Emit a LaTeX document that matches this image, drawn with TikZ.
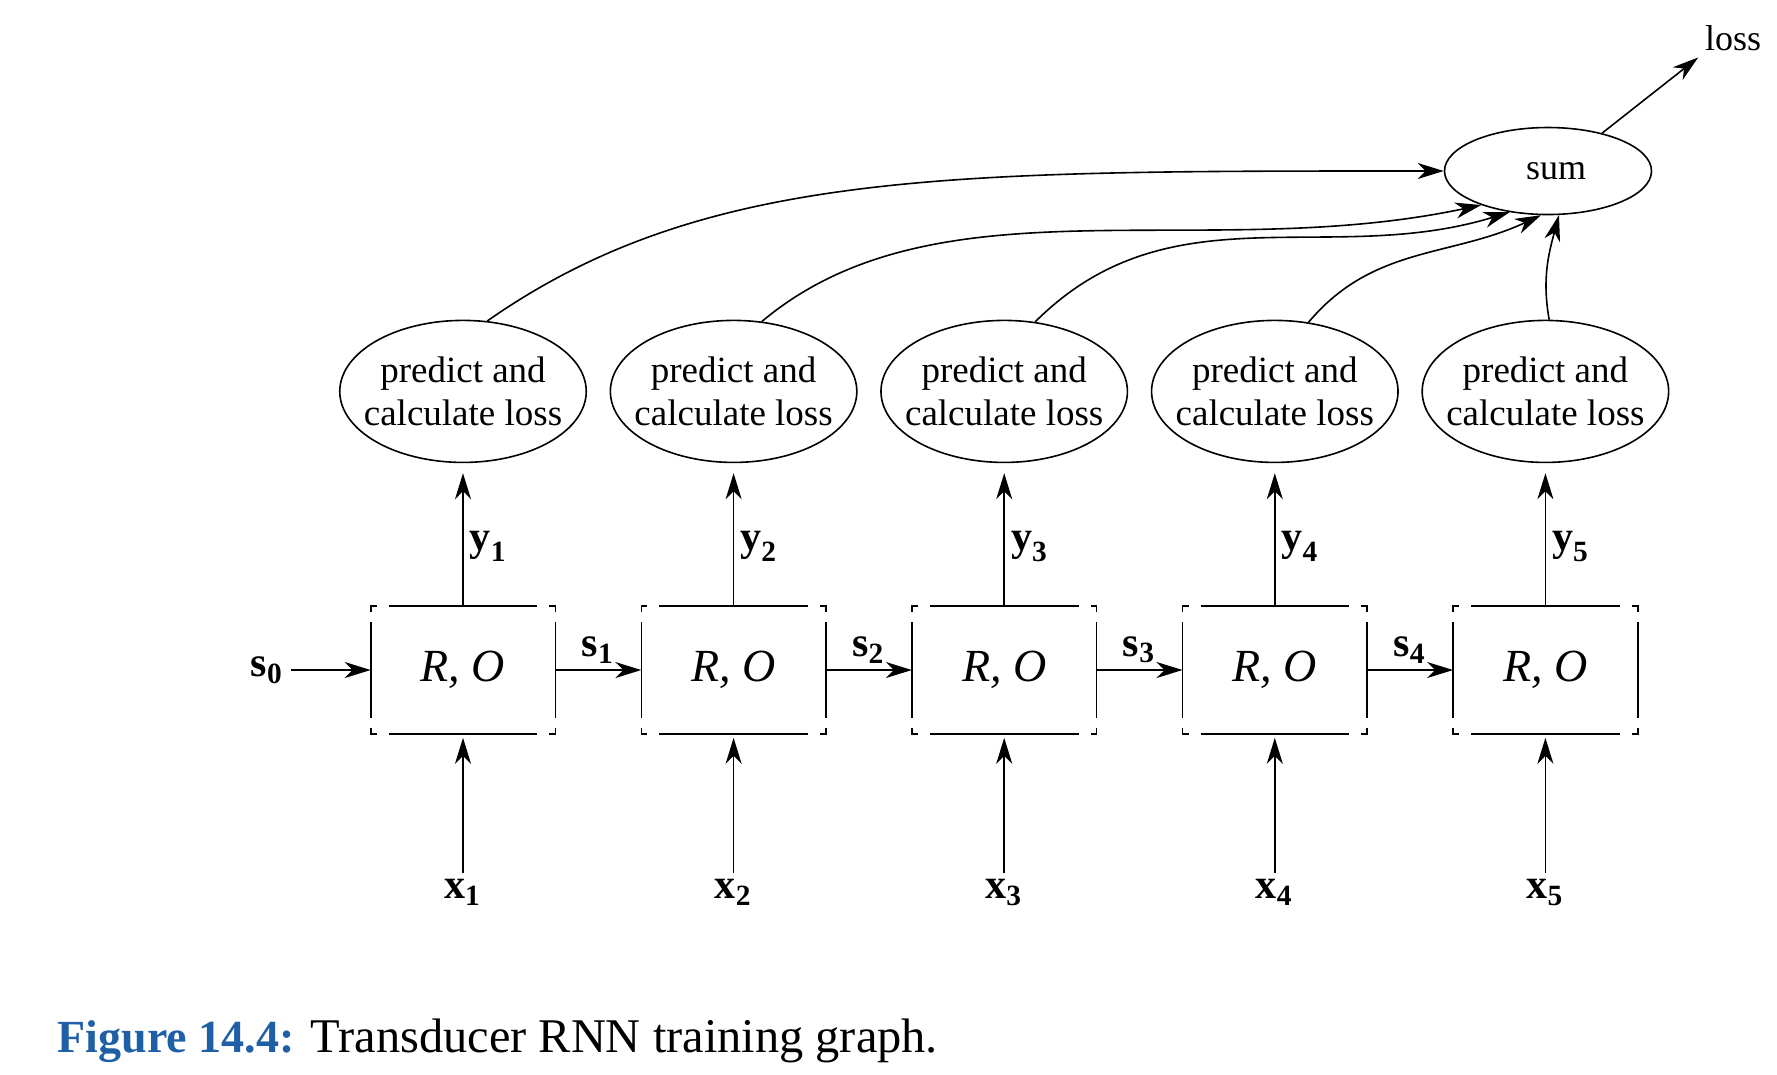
\documentclass[tikz,border=0pt]{standalone}
\usepackage{amsmath}
\usepackage{fontspec}
\setmainfont{Liberation Serif}
\usetikzlibrary{positioning,shapes.geometric,arrows.meta}
\definecolor{captionblue}{RGB}{30,95,165}

\begin{document}
\begin{tikzpicture}[x=0.25pt, y=-0.25pt, line width=0.4pt,
>={Stealth[length=6.5pt,width=4pt,inset=2pt]},
rnnbox/.style={rectangle, minimum width=45.75pt, minimum height=31.5pt, inner sep=0pt, font=\fontsize{11.5}{13}\selectfont\itshape},
lossnode/.style={ellipse, draw, align=center, minimum width=61.5pt, minimum height=35.5pt, inner xsep=-3pt, inner ysep=0pt, font=\fontsize{9.25}{10.75}\selectfont},
sumnode/.style={ellipse, draw, minimum width=51.75pt, minimum height=21.75pt, inner sep=0pt, font=\fontsize{9}{11}\selectfont},
vlabel/.style={font=\fontsize{10.5}{12}\selectfont, inner sep=1.5pt},
]
\useasboundingbox (0,0) rectangle (1777,1074);

%Nodes
\node[rnnbox]      (b1)   at (463,670)           {R, O};
\node[rnnbox]      (b2)   [right=21.5pt of b1]   {R, O};
\node[rnnbox]      (b3)   [right=21.5pt of b2]   {R, O};
\node[rnnbox]      (b4)   [right=21.5pt of b3]   {R, O};
\node[rnnbox]      (b5)   [right=21.5pt of b4]   {R, O};
\node[vlabel]      (s0)   [left=20pt of b1]      {$\textbf{s}_{\textbf{0}}$};
\foreach \i in {1,...,5}{
  \node[lossnode]  (p\i)  [above=35.75pt of b\i] {predict and\\calculate loss};
  \node[vlabel]    (x\i)  [below=34.75pt of b\i] {$\textbf{x}_{\textbf{\i}}$};
}
\node[sumnode]     (sum)  at (1548,171)          {\hspace*{4pt}sum};
\node[font=\fontsize{9}{11}\selectfont, inner sep=1.5pt] (loss) at (1733,38) {loss};
\node[anchor=base west, inner sep=0pt, font=\fontsize{11.5}{14}\selectfont] (caption) at (57,1052)
  {\textcolor{captionblue}{\textbf{Figure 14.4:}}\hspace{0.35em}{\fontsize{12.1}{14}\selectfont Transducer RNN training graph.}};

%Box borders with open corners
\foreach \bx in {b1,b2,b3,b4,b5}{
  \draw (\bx.north west) ++(0pt,-1.5pt) |- ++(1.5pt,1.5pt);
  \draw (\bx.north east) ++(0pt,-1.5pt) |- ++(-1.5pt,1.5pt);
  \draw (\bx.south west) ++(0pt,1.5pt) |- ++(1.5pt,-1.5pt);
  \draw (\bx.south east) ++(0pt,1.5pt) |- ++(-1.5pt,-1.5pt);
  \draw ([xshift=4.5pt]\bx.north west) -- ([xshift=-4.5pt]\bx.north east);
  \draw ([xshift=4.5pt]\bx.south west) -- ([xshift=-4.5pt]\bx.south east);
  \draw ([yshift=-4pt]\bx.north west) -- ([yshift=4pt]\bx.south west);
  \draw ([yshift=-4pt]\bx.north east) -- ([yshift=4pt]\bx.south east);
}

%Lines
\foreach \i in {1,...,5}{
  \draw[->, shorten >=2.5pt] (b\i.north) -- (p\i.south) node[pos=0.42, right, vlabel] {$\textbf{y}_{\textbf{\i}}$};
  \draw[->, shorten >=1pt] (x\i.north) -- (b\i.south);
}
\draw[->] (s0.east) -- (b1.west);
\foreach \i/\j in {1/2,2/3,3/4,4/5}
  \draw[->] (b\i.east) -- (b\j.west) node[midway, above, vlabel] {$\textbf{s}_{\textbf{\i}}$};
\draw[->] (p1.71) to[out=35, in=180, out looseness=0.7, in looseness=1.3] (sum.west);
\draw[->] (p2.68) to[out=40, in=192, out looseness=0.8] (sum.207);
\draw[->] (p3.66) to[out=45, in=197] (sum.227);
\draw[->] (p4.64) to[out=50, in=205] (sum.261);
\draw[->] (p5.87) to[out=100, in=255] (sum.284);
\draw[->] (sum.35) -- (loss.south west);
\end{tikzpicture}
\end{document}
